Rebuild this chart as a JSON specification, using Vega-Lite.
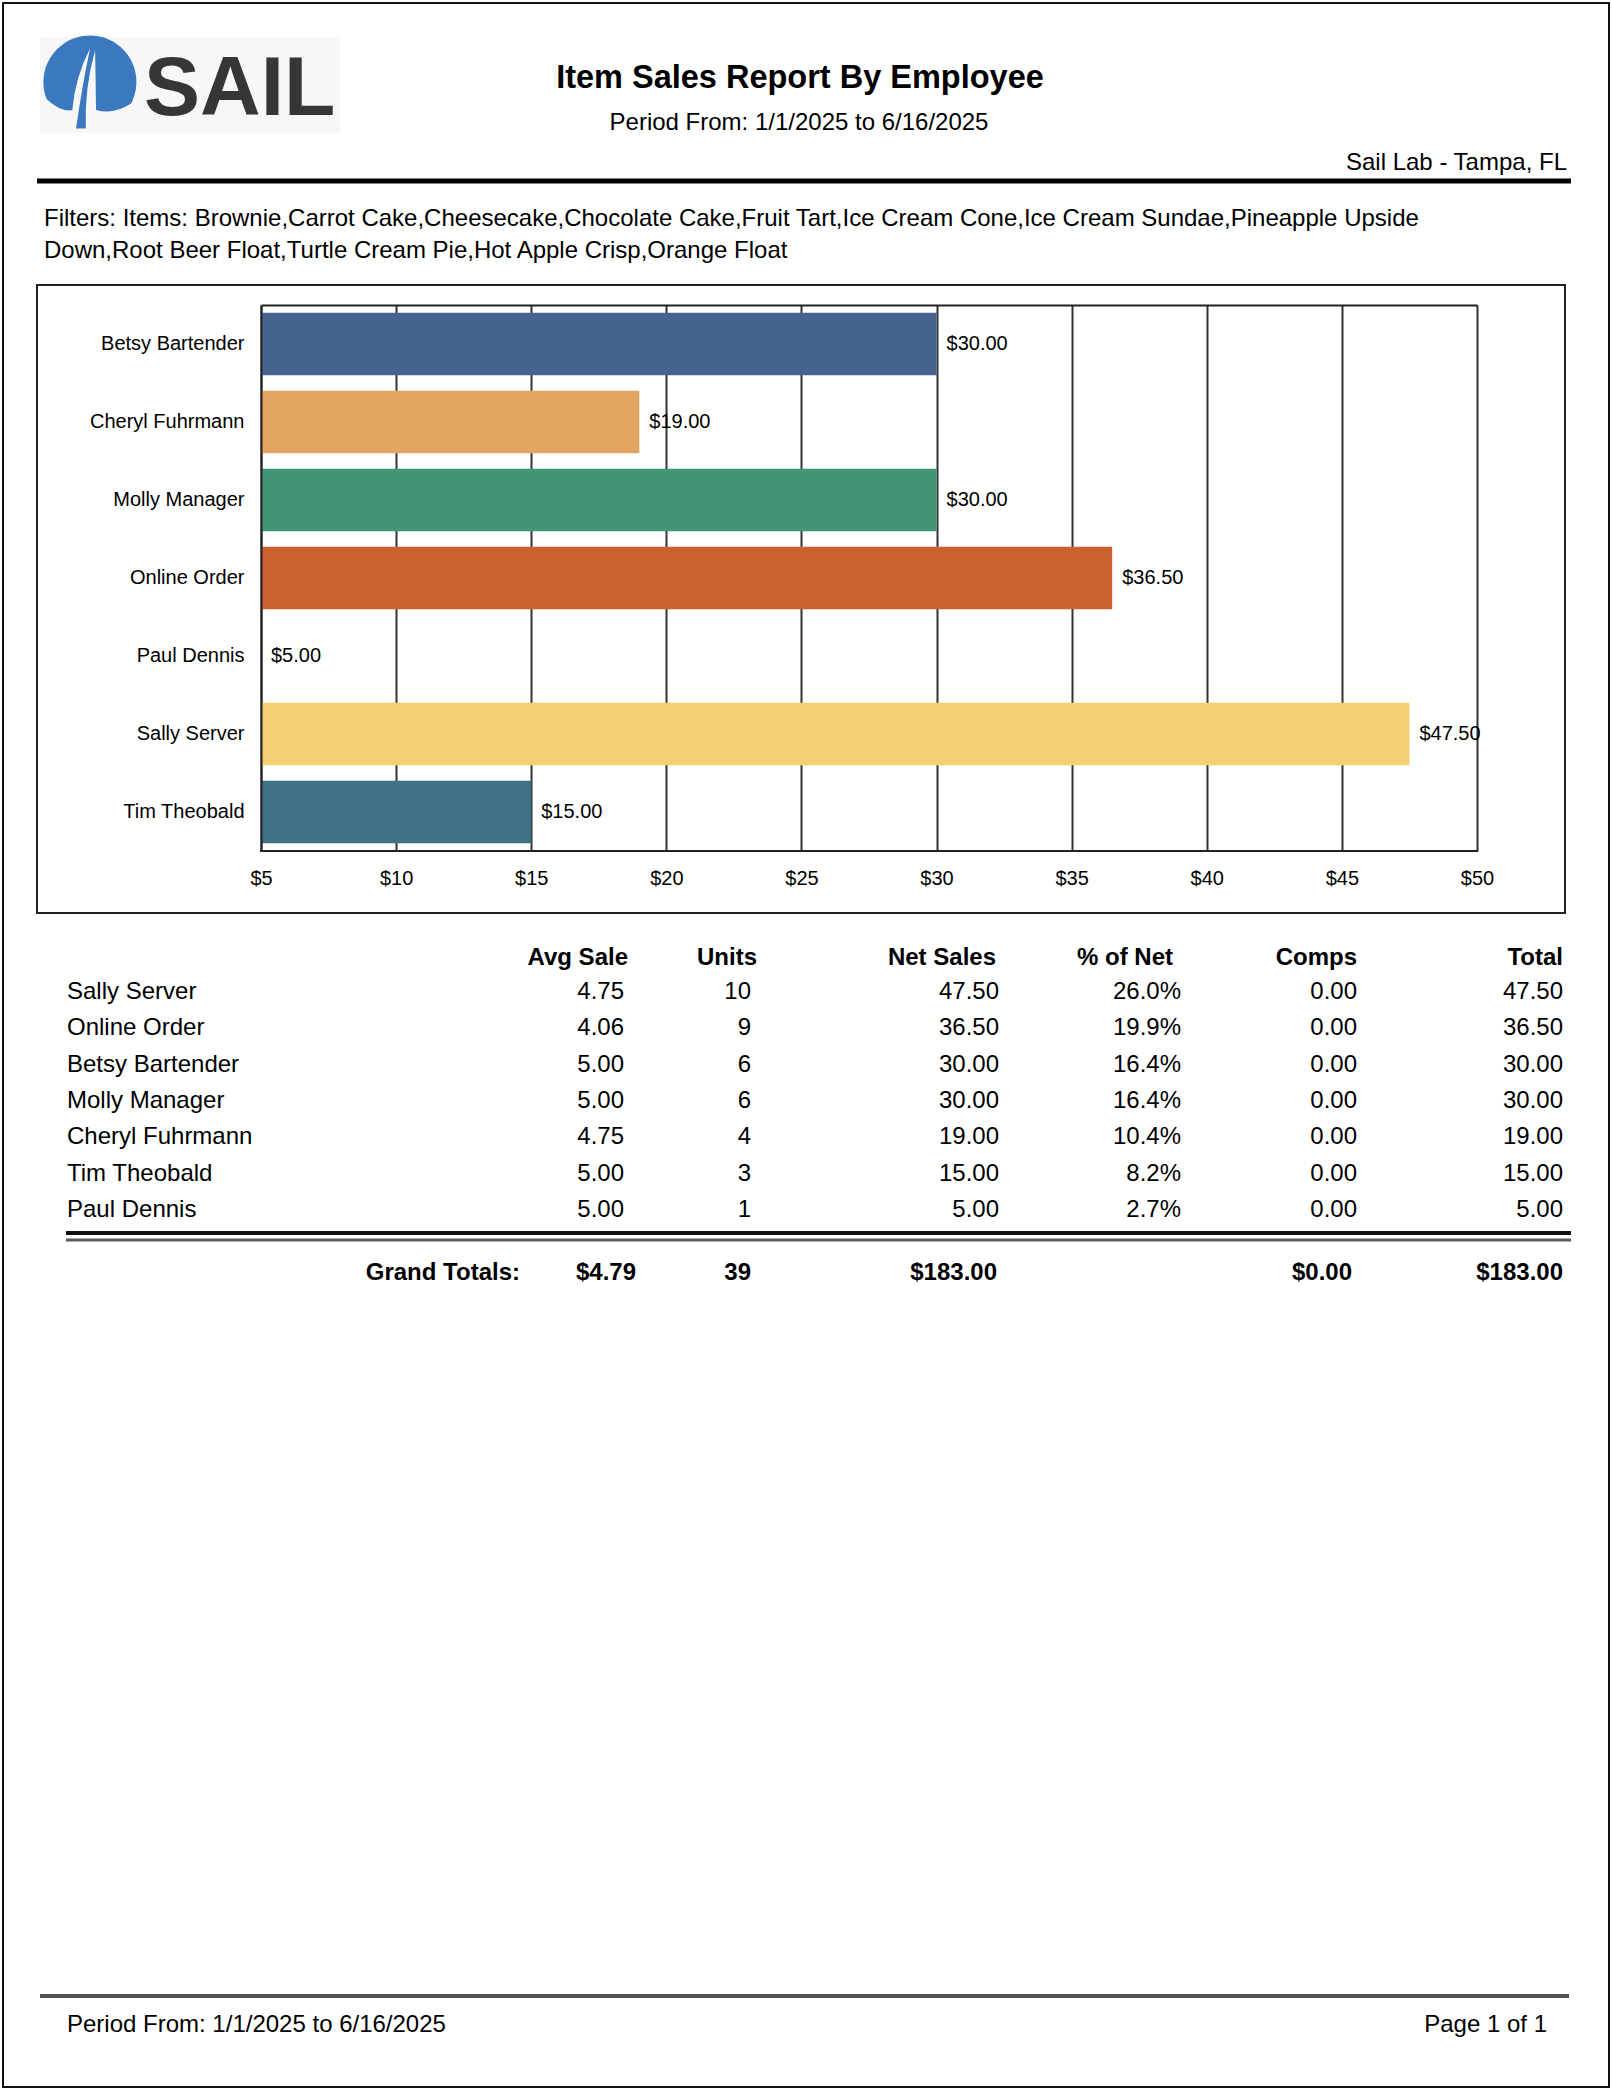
{
  "$schema": "https://vega.github.io/schema/vega-lite/v6.json",
  "width": 1612,
  "height": 2090,
  "autosize": {"type": "fit", "contains": "padding"},
  "padding": 0,
  "background": "#ffffff",
  "config": {
    "view": {"stroke": null},
    "font": "Liberation Sans",
    "text": {"font": "Liberation Sans", "color": "#000000"},
    "axis": {"labelFont": "Liberation Sans"}
  },
  "datasets": {
    "employees": [
      {"name": "Betsy Bartender", "avg": 5.00, "units": 6, "net": 30.00, "pct": 0.164, "comps": 0.00, "total": 30.00},
      {"name": "Cheryl Fuhrmann", "avg": 4.75, "units": 4, "net": 19.00, "pct": 0.104, "comps": 0.00, "total": 19.00},
      {"name": "Molly Manager", "avg": 5.00, "units": 6, "net": 30.00, "pct": 0.164, "comps": 0.00, "total": 30.00},
      {"name": "Online Order", "avg": 4.06, "units": 9, "net": 36.50, "pct": 0.199, "comps": 0.00, "total": 36.50},
      {"name": "Paul Dennis", "avg": 5.00, "units": 1, "net": 5.00, "pct": 0.027, "comps": 0.00, "total": 5.00},
      {"name": "Sally Server", "avg": 4.75, "units": 10, "net": 47.50, "pct": 0.260, "comps": 0.00, "total": 47.50},
      {"name": "Tim Theobald", "avg": 5.00, "units": 3, "net": 15.00, "pct": 0.082, "comps": 0.00, "total": 15.00}
    ],
    "totals": [
      {"label": "Grand Totals:", "avg": 4.79, "units": 39, "net": 183.00, "comps": 0.00, "total": 183.00}
    ]
  },
  "resolve": {
    "scale": {"x": "independent", "y": "independent", "color": "independent"},
    "axis": {"x": "independent", "y": "independent"}
  },
  "layer": [
    {
      "data": {"name": "employees"},
      "encoding": {
        "y": {
          "field": "name", "type": "nominal",
          "scale": {"type": "band", "domain": ["Betsy Bartender", "Cheryl Fuhrmann", "Molly Manager", "Online Order", "Paul Dennis", "Sally Server", "Tim Theobald"], "range": [305, 851], "paddingInner": 0.2, "paddingOuter": 0.1},
          "axis": {"orient": "left", "offset": -261, "title": null, "domainColor": "#222222", "domainWidth": 2, "ticks": false, "tickSize": 0, "labelPadding": 17, "labelFontSize": 20, "labelColor": "#000000", "grid": false, "zindex": 1}
        },
        "x": {
          "field": "net", "type": "quantitative",
          "scale": {"domain": [5, 50], "range": [261, 1477], "nice": false, "zero": false},
          "axis": {"orient": "top", "offset": -305, "values": [5, 10, 15, 20, 25, 30, 35, 40, 45, 50], "labelExpr": "'$' + datum.value", "title": null, "grid": true, "gridColor": "#333333", "gridWidth": 2, "domainColor": "#222222", "domainWidth": 2, "ticks": false, "tickSize": 0, "labelPadding": -573, "labelBaseline": "middle", "labelFontSize": 20, "labelColor": "#000000", "labelFlush": false, "labelOverlap": false}
        }
      },
      "layer": [
        {
          "mark": {"type": "bar"},
          "encoding": {
            "x2": {"datum": 5},
            "color": {
              "field": "name", "type": "nominal",
              "scale": {"domain": ["Betsy Bartender", "Cheryl Fuhrmann", "Molly Manager", "Online Order", "Paul Dennis", "Sally Server", "Tim Theobald"], "range": ["#44638F", "#E3A562", "#429473", "#CE6132", "#8A6AA6", "#F5CF72", "#3E7187"]},
              "legend": null
            }
          }
        },
        {
          "mark": {"type": "text", "align": "left", "baseline": "middle", "dx": 10, "fontSize": 20},
          "encoding": {"text": {"field": "net", "type": "quantitative", "format": "$.2f"}}
        }
      ]
    },
    {
      "data": {"values": [{}]},
      "layer": [
        {
          "mark": {"type": "rect", "filled": false, "stroke": "#111111", "strokeWidth": 2},
          "encoding": {
            "x": {"datum": 3, "type": "quantitative", "scale": {"domain": [0, 1612], "range": [0, 1612], "nice": false, "zero": false}, "axis": null},
            "x2": {"datum": 1609},
            "y": {"datum": 3, "type": "quantitative", "scale": {"domain": [0, 2090], "range": [0, 2090], "nice": false, "zero": false}, "axis": null},
            "y2": {"datum": 2087}
          }
        },
        {
          "mark": {"type": "rect", "fill": "#f7f7f8"},
          "encoding": {
            "x": {"datum": 40, "type": "quantitative", "scale": {"domain": [0, 1612], "range": [0, 1612], "nice": false, "zero": false}, "axis": null},
            "x2": {"datum": 340},
            "y": {"datum": 37, "type": "quantitative", "scale": {"domain": [0, 2090], "range": [0, 2090], "nice": false, "zero": false}, "axis": null},
            "y2": {"datum": 133}
          }
        },
        {
          "mark": {"type": "point", "filled": true, "opacity": 1, "fill": "#3A79BF", "size": 8649, "shape": "M -0.36 0.6 Q -0.62 0.66 -0.93 0.37 A 1 1 0 1 1 0.89 0.455 Q 0.505 0.71 0.13 0.6 Q 0.12 -0.1 0.11 -0.68 Q -0.12 0.1 -0.09 1.0 L -0.3 1.0 Q -0.17 0.1 0.0 -0.72 Q -0.32 -0.1 -0.38 0.6 Z"},
          "encoding": {
            "x": {"datum": 90, "type": "quantitative", "scale": {"domain": [0, 1612], "range": [0, 1612], "nice": false, "zero": false}, "axis": null},
            "y": {"datum": 82, "type": "quantitative", "scale": {"domain": [0, 2090], "range": [0, 2090], "nice": false, "zero": false}, "axis": null}
          }
        },
        {
          "data": {"values": [{"label": "SAIL"}]},
          "mark": {"type": "text", "align": "left", "baseline": "alphabetic", "fontSize": 84, "fontWeight": "bold", "color": "#363636"},
          "encoding": {
            "x": {"datum": 144, "type": "quantitative", "scale": {"domain": [0, 1612], "range": [0, 1612], "nice": false, "zero": false}, "axis": null},
            "y": {"datum": 115, "type": "quantitative", "scale": {"domain": [0, 2090], "range": [0, 2090], "nice": false, "zero": false}, "axis": null},
            "text": {"field": "label"}
          }
        },
        {
          "data": {"values": [{"label": "Item Sales Report By Employee"}]},
          "mark": {"type": "text", "align": "center", "baseline": "middle", "fontSize": 32.5, "fontWeight": "bold"},
          "encoding": {
            "x": {"datum": 800, "type": "quantitative", "scale": {"domain": [0, 1612], "range": [0, 1612], "nice": false, "zero": false}, "axis": null},
            "y": {"datum": 78, "type": "quantitative", "scale": {"domain": [0, 2090], "range": [0, 2090], "nice": false, "zero": false}, "axis": null},
            "text": {"field": "label"}
          }
        },
        {
          "data": {"values": [{"label": "Period From: 1/1/2025 to 6/16/2025"}]},
          "mark": {"type": "text", "align": "center", "baseline": "middle", "fontSize": 24},
          "encoding": {
            "x": {"datum": 799, "type": "quantitative", "scale": {"domain": [0, 1612], "range": [0, 1612], "nice": false, "zero": false}, "axis": null},
            "y": {"datum": 123, "type": "quantitative", "scale": {"domain": [0, 2090], "range": [0, 2090], "nice": false, "zero": false}, "axis": null},
            "text": {"field": "label"}
          }
        },
        {
          "data": {"values": [{"label": "Sail Lab - Tampa, FL"}]},
          "mark": {"type": "text", "align": "right", "baseline": "middle", "fontSize": 24},
          "encoding": {
            "x": {"datum": 1567, "type": "quantitative", "scale": {"domain": [0, 1612], "range": [0, 1612], "nice": false, "zero": false}, "axis": null},
            "y": {"datum": 163, "type": "quantitative", "scale": {"domain": [0, 2090], "range": [0, 2090], "nice": false, "zero": false}, "axis": null},
            "text": {"field": "label"}
          }
        },
        {
          "mark": {"type": "rule", "color": "#000000", "strokeWidth": 5},
          "encoding": {
            "x": {"datum": 37, "type": "quantitative", "scale": {"domain": [0, 1612], "range": [0, 1612], "nice": false, "zero": false}, "axis": null},
            "x2": {"datum": 1571},
            "y": {"datum": 181, "type": "quantitative", "scale": {"domain": [0, 2090], "range": [0, 2090], "nice": false, "zero": false}, "axis": null}
          }
        },
        {
          "data": {"values": [{"label": "Filters: Items: Brownie,Carrot Cake,Cheesecake,Chocolate Cake,Fruit Tart,Ice Cream Cone,Ice Cream Sundae,Pineapple Upside\nDown,Root Beer Float,Turtle Cream Pie,Hot Apple Crisp,Orange Float"}]},
          "mark": {"type": "text", "align": "left", "baseline": "top", "fontSize": 24, "lineBreak": "\n", "lineHeight": 32},
          "encoding": {
            "x": {"datum": 44, "type": "quantitative", "scale": {"domain": [0, 1612], "range": [0, 1612], "nice": false, "zero": false}, "axis": null},
            "y": {"datum": 207, "type": "quantitative", "scale": {"domain": [0, 2090], "range": [0, 2090], "nice": false, "zero": false}, "axis": null},
            "text": {"field": "label"}
          }
        },
        {
          "mark": {"type": "rect", "filled": false, "stroke": "#222222", "strokeWidth": 2},
          "encoding": {
            "x": {"datum": 37, "type": "quantitative", "scale": {"domain": [0, 1612], "range": [0, 1612], "nice": false, "zero": false}, "axis": null},
            "x2": {"datum": 1565},
            "y": {"datum": 285, "type": "quantitative", "scale": {"domain": [0, 2090], "range": [0, 2090], "nice": false, "zero": false}, "axis": null},
            "y2": {"datum": 913}
          }
        },
        {
          "mark": {"type": "rule", "color": "#222222", "strokeWidth": 2},
          "encoding": {
            "x": {"datum": 260, "type": "quantitative", "scale": {"domain": [0, 1612], "range": [0, 1612], "nice": false, "zero": false}, "axis": null},
            "x2": {"datum": 1478},
            "y": {"datum": 851, "type": "quantitative", "scale": {"domain": [0, 2090], "range": [0, 2090], "nice": false, "zero": false}, "axis": null}
          }
        },
        {
          "data": {"values": [{"label": "Avg Sale"}]},
          "mark": {"type": "text", "align": "right", "baseline": "middle", "fontSize": 24, "fontWeight": "bold"},
          "encoding": {
            "x": {"datum": 628, "type": "quantitative", "scale": {"domain": [0, 1612], "range": [0, 1612], "nice": false, "zero": false}, "axis": null},
            "y": {"datum": 958, "type": "quantitative", "scale": {"domain": [0, 2090], "range": [0, 2090], "nice": false, "zero": false}, "axis": null},
            "text": {"field": "label"}
          }
        },
        {
          "data": {"values": [{"label": "Units"}]},
          "mark": {"type": "text", "align": "right", "baseline": "middle", "fontSize": 24, "fontWeight": "bold"},
          "encoding": {
            "x": {"datum": 757, "type": "quantitative", "scale": {"domain": [0, 1612], "range": [0, 1612], "nice": false, "zero": false}, "axis": null},
            "y": {"datum": 958, "type": "quantitative", "scale": {"domain": [0, 2090], "range": [0, 2090], "nice": false, "zero": false}, "axis": null},
            "text": {"field": "label"}
          }
        },
        {
          "data": {"values": [{"label": "Net Sales"}]},
          "mark": {"type": "text", "align": "right", "baseline": "middle", "fontSize": 24, "fontWeight": "bold"},
          "encoding": {
            "x": {"datum": 996, "type": "quantitative", "scale": {"domain": [0, 1612], "range": [0, 1612], "nice": false, "zero": false}, "axis": null},
            "y": {"datum": 958, "type": "quantitative", "scale": {"domain": [0, 2090], "range": [0, 2090], "nice": false, "zero": false}, "axis": null},
            "text": {"field": "label"}
          }
        },
        {
          "data": {"values": [{"label": "% of Net"}]},
          "mark": {"type": "text", "align": "right", "baseline": "middle", "fontSize": 24, "fontWeight": "bold"},
          "encoding": {
            "x": {"datum": 1173, "type": "quantitative", "scale": {"domain": [0, 1612], "range": [0, 1612], "nice": false, "zero": false}, "axis": null},
            "y": {"datum": 958, "type": "quantitative", "scale": {"domain": [0, 2090], "range": [0, 2090], "nice": false, "zero": false}, "axis": null},
            "text": {"field": "label"}
          }
        },
        {
          "data": {"values": [{"label": "Comps"}]},
          "mark": {"type": "text", "align": "right", "baseline": "middle", "fontSize": 24, "fontWeight": "bold"},
          "encoding": {
            "x": {"datum": 1357, "type": "quantitative", "scale": {"domain": [0, 1612], "range": [0, 1612], "nice": false, "zero": false}, "axis": null},
            "y": {"datum": 958, "type": "quantitative", "scale": {"domain": [0, 2090], "range": [0, 2090], "nice": false, "zero": false}, "axis": null},
            "text": {"field": "label"}
          }
        },
        {
          "data": {"values": [{"label": "Total"}]},
          "mark": {"type": "text", "align": "right", "baseline": "middle", "fontSize": 24, "fontWeight": "bold"},
          "encoding": {
            "x": {"datum": 1563, "type": "quantitative", "scale": {"domain": [0, 1612], "range": [0, 1612], "nice": false, "zero": false}, "axis": null},
            "y": {"datum": 958, "type": "quantitative", "scale": {"domain": [0, 2090], "range": [0, 2090], "nice": false, "zero": false}, "axis": null},
            "text": {"field": "label"}
          }
        },
        {
          "mark": {"type": "rule", "color": "#111111", "strokeWidth": 4},
          "encoding": {
            "x": {"datum": 66, "type": "quantitative", "scale": {"domain": [0, 1612], "range": [0, 1612], "nice": false, "zero": false}, "axis": null},
            "x2": {"datum": 1571},
            "y": {"datum": 1233, "type": "quantitative", "scale": {"domain": [0, 2090], "range": [0, 2090], "nice": false, "zero": false}, "axis": null}
          }
        },
        {
          "mark": {"type": "rule", "color": "#5a5a5a", "strokeWidth": 3},
          "encoding": {
            "x": {"datum": 66, "type": "quantitative", "scale": {"domain": [0, 1612], "range": [0, 1612], "nice": false, "zero": false}, "axis": null},
            "x2": {"datum": 1571},
            "y": {"datum": 1240, "type": "quantitative", "scale": {"domain": [0, 2090], "range": [0, 2090], "nice": false, "zero": false}, "axis": null}
          }
        },
        {
          "data": {"name": "totals"},
          "mark": {"type": "text", "align": "right", "baseline": "middle", "fontSize": 24, "fontWeight": "bold"},
          "encoding": {
            "x": {"datum": 520, "type": "quantitative", "scale": {"domain": [0, 1612], "range": [0, 1612], "nice": false, "zero": false}, "axis": null},
            "y": {"datum": 1273, "type": "quantitative", "scale": {"domain": [0, 2090], "range": [0, 2090], "nice": false, "zero": false}, "axis": null},
            "text": {"field": "label"}
          }
        },
        {
          "data": {"name": "totals"},
          "mark": {"type": "text", "align": "right", "baseline": "middle", "fontSize": 24, "fontWeight": "bold"},
          "encoding": {
            "x": {"datum": 636, "type": "quantitative", "scale": {"domain": [0, 1612], "range": [0, 1612], "nice": false, "zero": false}, "axis": null},
            "y": {"datum": 1273, "type": "quantitative", "scale": {"domain": [0, 2090], "range": [0, 2090], "nice": false, "zero": false}, "axis": null},
            "text": {"field": "avg", "type": "quantitative", "format": "$.2f"}
          }
        },
        {
          "data": {"name": "totals"},
          "mark": {"type": "text", "align": "right", "baseline": "middle", "fontSize": 24, "fontWeight": "bold"},
          "encoding": {
            "x": {"datum": 751, "type": "quantitative", "scale": {"domain": [0, 1612], "range": [0, 1612], "nice": false, "zero": false}, "axis": null},
            "y": {"datum": 1273, "type": "quantitative", "scale": {"domain": [0, 2090], "range": [0, 2090], "nice": false, "zero": false}, "axis": null},
            "text": {"field": "units", "type": "quantitative", "format": "d"}
          }
        },
        {
          "data": {"name": "totals"},
          "mark": {"type": "text", "align": "right", "baseline": "middle", "fontSize": 24, "fontWeight": "bold"},
          "encoding": {
            "x": {"datum": 997, "type": "quantitative", "scale": {"domain": [0, 1612], "range": [0, 1612], "nice": false, "zero": false}, "axis": null},
            "y": {"datum": 1273, "type": "quantitative", "scale": {"domain": [0, 2090], "range": [0, 2090], "nice": false, "zero": false}, "axis": null},
            "text": {"field": "net", "type": "quantitative", "format": "$.2f"}
          }
        },
        {
          "data": {"name": "totals"},
          "mark": {"type": "text", "align": "right", "baseline": "middle", "fontSize": 24, "fontWeight": "bold"},
          "encoding": {
            "x": {"datum": 1352, "type": "quantitative", "scale": {"domain": [0, 1612], "range": [0, 1612], "nice": false, "zero": false}, "axis": null},
            "y": {"datum": 1273, "type": "quantitative", "scale": {"domain": [0, 2090], "range": [0, 2090], "nice": false, "zero": false}, "axis": null},
            "text": {"field": "comps", "type": "quantitative", "format": "$.2f"}
          }
        },
        {
          "data": {"name": "totals"},
          "mark": {"type": "text", "align": "right", "baseline": "middle", "fontSize": 24, "fontWeight": "bold"},
          "encoding": {
            "x": {"datum": 1563, "type": "quantitative", "scale": {"domain": [0, 1612], "range": [0, 1612], "nice": false, "zero": false}, "axis": null},
            "y": {"datum": 1273, "type": "quantitative", "scale": {"domain": [0, 2090], "range": [0, 2090], "nice": false, "zero": false}, "axis": null},
            "text": {"field": "total", "type": "quantitative", "format": "$.2f"}
          }
        },
        {
          "mark": {"type": "rule", "color": "#505050", "strokeWidth": 4},
          "encoding": {
            "x": {"datum": 40, "type": "quantitative", "scale": {"domain": [0, 1612], "range": [0, 1612], "nice": false, "zero": false}, "axis": null},
            "x2": {"datum": 1569},
            "y": {"datum": 1996, "type": "quantitative", "scale": {"domain": [0, 2090], "range": [0, 2090], "nice": false, "zero": false}, "axis": null}
          }
        },
        {
          "data": {"values": [{"label": "Period From: 1/1/2025 to 6/16/2025"}]},
          "mark": {"type": "text", "align": "left", "baseline": "middle", "fontSize": 24},
          "encoding": {
            "x": {"datum": 67, "type": "quantitative", "scale": {"domain": [0, 1612], "range": [0, 1612], "nice": false, "zero": false}, "axis": null},
            "y": {"datum": 2025, "type": "quantitative", "scale": {"domain": [0, 2090], "range": [0, 2090], "nice": false, "zero": false}, "axis": null},
            "text": {"field": "label"}
          }
        },
        {
          "data": {"values": [{"label": "Page 1 of 1"}]},
          "mark": {"type": "text", "align": "right", "baseline": "middle", "fontSize": 24},
          "encoding": {
            "x": {"datum": 1547, "type": "quantitative", "scale": {"domain": [0, 1612], "range": [0, 1612], "nice": false, "zero": false}, "axis": null},
            "y": {"datum": 2025, "type": "quantitative", "scale": {"domain": [0, 2090], "range": [0, 2090], "nice": false, "zero": false}, "axis": null},
            "text": {"field": "label"}
          }
        }
      ]
    },
    {
      "data": {"name": "employees"},
      "encoding": {
        "y": {
          "field": "name", "type": "nominal",
          "scale": {"type": "point", "domain": ["Sally Server", "Online Order", "Betsy Bartender", "Molly Manager", "Cheryl Fuhrmann", "Tim Theobald", "Paul Dennis"], "range": [992, 1210], "padding": 0},
          "axis": null
        }
      },
      "layer": [
        {
          "mark": {"type": "text", "align": "left", "baseline": "middle", "fontSize": 24},
          "encoding": {
            "x": {"datum": 67, "type": "quantitative", "scale": {"domain": [0, 1612], "range": [0, 1612], "nice": false, "zero": false}, "axis": null},
            "text": {"field": "name"}
          }
        },
        {
          "mark": {"type": "text", "align": "right", "baseline": "middle", "fontSize": 24},
          "encoding": {
            "x": {"datum": 624, "type": "quantitative", "scale": {"domain": [0, 1612], "range": [0, 1612], "nice": false, "zero": false}, "axis": null},
            "text": {"field": "avg", "type": "quantitative", "format": ".2f"}
          }
        },
        {
          "mark": {"type": "text", "align": "right", "baseline": "middle", "fontSize": 24},
          "encoding": {
            "x": {"datum": 751, "type": "quantitative", "scale": {"domain": [0, 1612], "range": [0, 1612], "nice": false, "zero": false}, "axis": null},
            "text": {"field": "units", "type": "quantitative", "format": "d"}
          }
        },
        {
          "mark": {"type": "text", "align": "right", "baseline": "middle", "fontSize": 24},
          "encoding": {
            "x": {"datum": 999, "type": "quantitative", "scale": {"domain": [0, 1612], "range": [0, 1612], "nice": false, "zero": false}, "axis": null},
            "text": {"field": "net", "type": "quantitative", "format": ".2f"}
          }
        },
        {
          "mark": {"type": "text", "align": "right", "baseline": "middle", "fontSize": 24},
          "encoding": {
            "x": {"datum": 1181, "type": "quantitative", "scale": {"domain": [0, 1612], "range": [0, 1612], "nice": false, "zero": false}, "axis": null},
            "text": {"field": "pct", "type": "quantitative", "format": ".1%"}
          }
        },
        {
          "mark": {"type": "text", "align": "right", "baseline": "middle", "fontSize": 24},
          "encoding": {
            "x": {"datum": 1357, "type": "quantitative", "scale": {"domain": [0, 1612], "range": [0, 1612], "nice": false, "zero": false}, "axis": null},
            "text": {"field": "comps", "type": "quantitative", "format": ".2f"}
          }
        },
        {
          "mark": {"type": "text", "align": "right", "baseline": "middle", "fontSize": 24},
          "encoding": {
            "x": {"datum": 1563, "type": "quantitative", "scale": {"domain": [0, 1612], "range": [0, 1612], "nice": false, "zero": false}, "axis": null},
            "text": {"field": "total", "type": "quantitative", "format": ".2f"}
          }
        }
      ]
    }
  ]
}
